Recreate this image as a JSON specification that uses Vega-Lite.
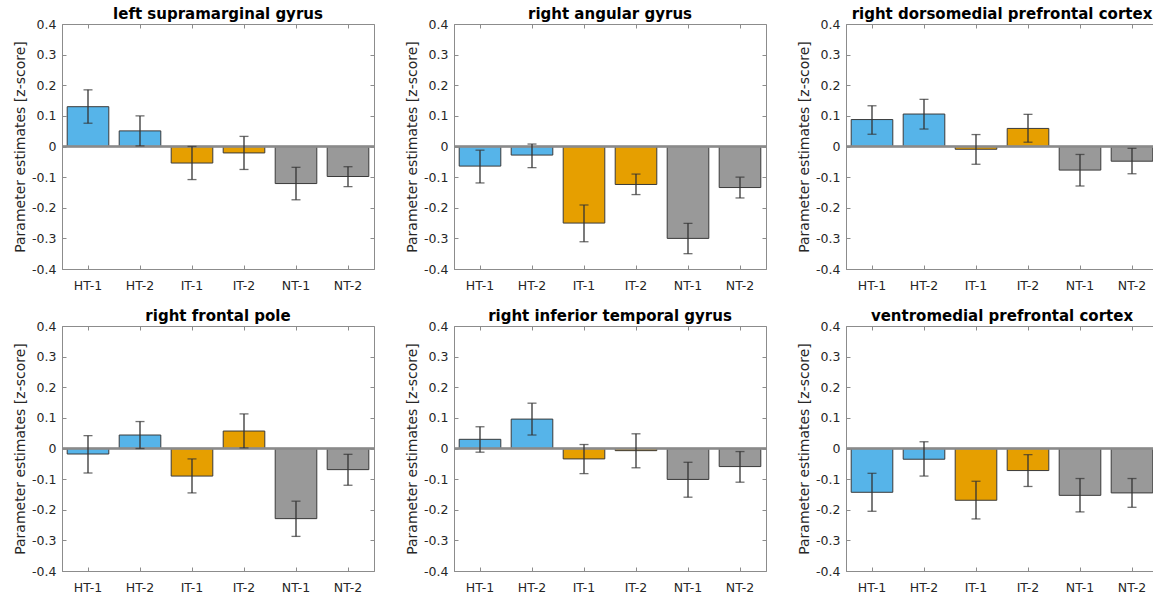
{
  "$schema": "https://vega.github.io/schema/vega-lite/v6.json",
  "padding": {"left": 13, "top": 6, "right": 0, "bottom": 0},
  "background": "white",
  "data": {"values": [
    {"region": "left supramarginal gyrus", "cond": "HT-1", "group": "HT", "mean": 0.130, "lo": 0.076, "hi": 0.185},
    {"region": "left supramarginal gyrus", "cond": "HT-2", "group": "HT", "mean": 0.051, "lo": 0.002, "hi": 0.100},
    {"region": "left supramarginal gyrus", "cond": "IT-1", "group": "IT", "mean": -0.054, "lo": -0.108, "hi": 0.000},
    {"region": "left supramarginal gyrus", "cond": "IT-2", "group": "IT", "mean": -0.021, "lo": -0.075, "hi": 0.033},
    {"region": "left supramarginal gyrus", "cond": "NT-1", "group": "NT", "mean": -0.121, "lo": -0.174, "hi": -0.068},
    {"region": "left supramarginal gyrus", "cond": "NT-2", "group": "NT", "mean": -0.098, "lo": -0.131, "hi": -0.066},
    {"region": "right angular gyrus", "cond": "HT-1", "group": "HT", "mean": -0.064, "lo": -0.119, "hi": -0.012},
    {"region": "right angular gyrus", "cond": "HT-2", "group": "HT", "mean": -0.028, "lo": -0.069, "hi": 0.008},
    {"region": "right angular gyrus", "cond": "IT-1", "group": "IT", "mean": -0.250, "lo": -0.311, "hi": -0.191},
    {"region": "right angular gyrus", "cond": "IT-2", "group": "IT", "mean": -0.124, "lo": -0.157, "hi": -0.090},
    {"region": "right angular gyrus", "cond": "NT-1", "group": "NT", "mean": -0.300, "lo": -0.350, "hi": -0.251},
    {"region": "right angular gyrus", "cond": "NT-2", "group": "NT", "mean": -0.134, "lo": -0.168, "hi": -0.100},
    {"region": "right dorsomedial prefrontal cortex", "cond": "HT-1", "group": "HT", "mean": 0.088, "lo": 0.040, "hi": 0.133},
    {"region": "right dorsomedial prefrontal cortex", "cond": "HT-2", "group": "HT", "mean": 0.106, "lo": 0.057, "hi": 0.154},
    {"region": "right dorsomedial prefrontal cortex", "cond": "IT-1", "group": "IT", "mean": -0.009, "lo": -0.058, "hi": 0.039},
    {"region": "right dorsomedial prefrontal cortex", "cond": "IT-2", "group": "IT", "mean": 0.059, "lo": 0.014, "hi": 0.105},
    {"region": "right dorsomedial prefrontal cortex", "cond": "NT-1", "group": "NT", "mean": -0.077, "lo": -0.129, "hi": -0.026},
    {"region": "right dorsomedial prefrontal cortex", "cond": "NT-2", "group": "NT", "mean": -0.048, "lo": -0.089, "hi": -0.006},
    {"region": "right frontal pole", "cond": "HT-1", "group": "HT", "mean": -0.018, "lo": -0.080, "hi": 0.042},
    {"region": "right frontal pole", "cond": "HT-2", "group": "HT", "mean": 0.044, "lo": 0.000, "hi": 0.088},
    {"region": "right frontal pole", "cond": "IT-1", "group": "IT", "mean": -0.090, "lo": -0.145, "hi": -0.034},
    {"region": "right frontal pole", "cond": "IT-2", "group": "IT", "mean": 0.057, "lo": 0.002, "hi": 0.113},
    {"region": "right frontal pole", "cond": "NT-1", "group": "NT", "mean": -0.229, "lo": -0.287, "hi": -0.172},
    {"region": "right frontal pole", "cond": "NT-2", "group": "NT", "mean": -0.069, "lo": -0.120, "hi": -0.019},
    {"region": "right inferior temporal gyrus", "cond": "HT-1", "group": "HT", "mean": 0.030, "lo": -0.012, "hi": 0.071},
    {"region": "right inferior temporal gyrus", "cond": "HT-2", "group": "HT", "mean": 0.096, "lo": 0.044, "hi": 0.148},
    {"region": "right inferior temporal gyrus", "cond": "IT-1", "group": "IT", "mean": -0.034, "lo": -0.082, "hi": 0.013},
    {"region": "right inferior temporal gyrus", "cond": "IT-2", "group": "IT", "mean": -0.007, "lo": -0.063, "hi": 0.048},
    {"region": "right inferior temporal gyrus", "cond": "NT-1", "group": "NT", "mean": -0.101, "lo": -0.159, "hi": -0.045},
    {"region": "right inferior temporal gyrus", "cond": "NT-2", "group": "NT", "mean": -0.059, "lo": -0.110, "hi": -0.010},
    {"region": "ventromedial prefrontal cortex", "cond": "HT-1", "group": "HT", "mean": -0.143, "lo": -0.205, "hi": -0.081},
    {"region": "ventromedial prefrontal cortex", "cond": "HT-2", "group": "HT", "mean": -0.035, "lo": -0.090, "hi": 0.022},
    {"region": "ventromedial prefrontal cortex", "cond": "IT-1", "group": "IT", "mean": -0.169, "lo": -0.230, "hi": -0.107},
    {"region": "ventromedial prefrontal cortex", "cond": "IT-2", "group": "IT", "mean": -0.072, "lo": -0.124, "hi": -0.020},
    {"region": "ventromedial prefrontal cortex", "cond": "NT-1", "group": "NT", "mean": -0.153, "lo": -0.207, "hi": -0.098},
    {"region": "ventromedial prefrontal cortex", "cond": "NT-2", "group": "NT", "mean": -0.145, "lo": -0.192, "hi": -0.098}
  ]},
  "columns": 3,
  "spacing": {"row": 57, "column": 80},
  "bounds": "flush",
  "concat": [
      {"title": "left supramarginal gyrus", "width": 312, "height": 245,
       "transform": [{"filter": "datum.region == 'left supramarginal gyrus'"}],
       "resolve": {"axis": {"x": "independent", "y": "independent"}},
       "layer": [
        {"mark": {"type": "bar", "stroke": "#3a3a3a", "strokeWidth": 1},
         "encoding": {"x": {"field": "cond", "type": "nominal", "sort": ["HT-1","HT-2","IT-1","IT-2","NT-1","NT-2"], "scale": {"paddingInner": 0.2, "paddingOuter": 0.1}, "axis": {"title": null, "labelAngle": 0, "labelPadding": 14}},
          "y": {"field": "mean", "type": "quantitative", "scale": {"domain": [-0.4, 0.4], "nice": false, "zero": false}, "axis": {"title": "Parameter estimates [z-score]", "values": [-0.4,-0.3,-0.2,-0.1,0,0.1,0.2,0.3,0.4], "labelExpr": "datum.value == 0 ? '0' : (datum.value < 0 ? '-' + format(-datum.value, '.1f') : format(datum.value, '.1f'))", "titlePadding": 4, "labelPadding": 10}},
          "color": {"field": "group", "type": "nominal", "scale": {"domain": ["HT","IT","NT"], "range": ["#56B4E9","#E69F00","#999999"]}, "legend": null}}},
        {"mark": {"type": "rule", "color": "#8a8a8a", "strokeWidth": 1.3}, "encoding": {"y": {"datum": 0, "type": "quantitative", "axis": null}}},
        {"mark": {"type": "rule", "color": "#333333", "strokeWidth": 1.3}, "encoding": {"x": {"field": "cond", "type": "nominal", "sort": ["HT-1","HT-2","IT-1","IT-2","NT-1","NT-2"], "axis": null}, "y": {"field": "lo", "type": "quantitative", "axis": null}, "y2": {"field": "hi"}}},
        {"mark": {"type": "tick", "color": "#333333", "size": 9, "thickness": 1.3}, "encoding": {"x": {"field": "cond", "type": "nominal", "sort": ["HT-1","HT-2","IT-1","IT-2","NT-1","NT-2"], "axis": null}, "y": {"field": "lo", "type": "quantitative", "axis": null}}},
        {"mark": {"type": "tick", "color": "#333333", "size": 9, "thickness": 1.3}, "encoding": {"x": {"field": "cond", "type": "nominal", "sort": ["HT-1","HT-2","IT-1","IT-2","NT-1","NT-2"], "axis": null}, "y": {"field": "hi", "type": "quantitative", "axis": null}}},
        {"mark": {"type": "tick", "opacity": 0}, "encoding": {"x": {"field": "cond", "type": "nominal", "sort": ["HT-1","HT-2","IT-1","IT-2","NT-1","NT-2"], "axis": {"orient": "top", "labels": false, "title": null, "domain": false}}, "y": {"field": "mean", "type": "quantitative", "axis": {"orient": "right", "labels": false, "title": null, "domain": false, "values": [-0.4,-0.3,-0.2,-0.1,0,0.1,0.2,0.3,0.4]}}}}
       ]},
      {"title": "right angular gyrus", "width": 312, "height": 245,
       "transform": [{"filter": "datum.region == 'right angular gyrus'"}],
       "resolve": {"axis": {"x": "independent", "y": "independent"}},
       "layer": [
        {"mark": {"type": "bar", "stroke": "#3a3a3a", "strokeWidth": 1},
         "encoding": {"x": {"field": "cond", "type": "nominal", "sort": ["HT-1","HT-2","IT-1","IT-2","NT-1","NT-2"], "scale": {"paddingInner": 0.2, "paddingOuter": 0.1}, "axis": {"title": null, "labelAngle": 0, "labelPadding": 14}},
          "y": {"field": "mean", "type": "quantitative", "scale": {"domain": [-0.4, 0.4], "nice": false, "zero": false}, "axis": {"title": "Parameter estimates [z-score]", "values": [-0.4,-0.3,-0.2,-0.1,0,0.1,0.2,0.3,0.4], "labelExpr": "datum.value == 0 ? '0' : (datum.value < 0 ? '-' + format(-datum.value, '.1f') : format(datum.value, '.1f'))", "titlePadding": 4, "labelPadding": 10}},
          "color": {"field": "group", "type": "nominal", "scale": {"domain": ["HT","IT","NT"], "range": ["#56B4E9","#E69F00","#999999"]}, "legend": null}}},
        {"mark": {"type": "rule", "color": "#8a8a8a", "strokeWidth": 1.3}, "encoding": {"y": {"datum": 0, "type": "quantitative", "axis": null}}},
        {"mark": {"type": "rule", "color": "#333333", "strokeWidth": 1.3}, "encoding": {"x": {"field": "cond", "type": "nominal", "sort": ["HT-1","HT-2","IT-1","IT-2","NT-1","NT-2"], "axis": null}, "y": {"field": "lo", "type": "quantitative", "axis": null}, "y2": {"field": "hi"}}},
        {"mark": {"type": "tick", "color": "#333333", "size": 9, "thickness": 1.3}, "encoding": {"x": {"field": "cond", "type": "nominal", "sort": ["HT-1","HT-2","IT-1","IT-2","NT-1","NT-2"], "axis": null}, "y": {"field": "lo", "type": "quantitative", "axis": null}}},
        {"mark": {"type": "tick", "color": "#333333", "size": 9, "thickness": 1.3}, "encoding": {"x": {"field": "cond", "type": "nominal", "sort": ["HT-1","HT-2","IT-1","IT-2","NT-1","NT-2"], "axis": null}, "y": {"field": "hi", "type": "quantitative", "axis": null}}},
        {"mark": {"type": "tick", "opacity": 0}, "encoding": {"x": {"field": "cond", "type": "nominal", "sort": ["HT-1","HT-2","IT-1","IT-2","NT-1","NT-2"], "axis": {"orient": "top", "labels": false, "title": null, "domain": false}}, "y": {"field": "mean", "type": "quantitative", "axis": {"orient": "right", "labels": false, "title": null, "domain": false, "values": [-0.4,-0.3,-0.2,-0.1,0,0.1,0.2,0.3,0.4]}}}}
       ]},
      {"title": "right dorsomedial prefrontal cortex", "width": 312, "height": 245,
       "transform": [{"filter": "datum.region == 'right dorsomedial prefrontal cortex'"}],
       "resolve": {"axis": {"x": "independent", "y": "independent"}},
       "layer": [
        {"mark": {"type": "bar", "stroke": "#3a3a3a", "strokeWidth": 1},
         "encoding": {"x": {"field": "cond", "type": "nominal", "sort": ["HT-1","HT-2","IT-1","IT-2","NT-1","NT-2"], "scale": {"paddingInner": 0.2, "paddingOuter": 0.1}, "axis": {"title": null, "labelAngle": 0, "labelPadding": 14}},
          "y": {"field": "mean", "type": "quantitative", "scale": {"domain": [-0.4, 0.4], "nice": false, "zero": false}, "axis": {"title": "Parameter estimates [z-score]", "values": [-0.4,-0.3,-0.2,-0.1,0,0.1,0.2,0.3,0.4], "labelExpr": "datum.value == 0 ? '0' : (datum.value < 0 ? '-' + format(-datum.value, '.1f') : format(datum.value, '.1f'))", "titlePadding": 4, "labelPadding": 10}},
          "color": {"field": "group", "type": "nominal", "scale": {"domain": ["HT","IT","NT"], "range": ["#56B4E9","#E69F00","#999999"]}, "legend": null}}},
        {"mark": {"type": "rule", "color": "#8a8a8a", "strokeWidth": 1.3}, "encoding": {"y": {"datum": 0, "type": "quantitative", "axis": null}}},
        {"mark": {"type": "rule", "color": "#333333", "strokeWidth": 1.3}, "encoding": {"x": {"field": "cond", "type": "nominal", "sort": ["HT-1","HT-2","IT-1","IT-2","NT-1","NT-2"], "axis": null}, "y": {"field": "lo", "type": "quantitative", "axis": null}, "y2": {"field": "hi"}}},
        {"mark": {"type": "tick", "color": "#333333", "size": 9, "thickness": 1.3}, "encoding": {"x": {"field": "cond", "type": "nominal", "sort": ["HT-1","HT-2","IT-1","IT-2","NT-1","NT-2"], "axis": null}, "y": {"field": "lo", "type": "quantitative", "axis": null}}},
        {"mark": {"type": "tick", "color": "#333333", "size": 9, "thickness": 1.3}, "encoding": {"x": {"field": "cond", "type": "nominal", "sort": ["HT-1","HT-2","IT-1","IT-2","NT-1","NT-2"], "axis": null}, "y": {"field": "hi", "type": "quantitative", "axis": null}}},
        {"mark": {"type": "tick", "opacity": 0}, "encoding": {"x": {"field": "cond", "type": "nominal", "sort": ["HT-1","HT-2","IT-1","IT-2","NT-1","NT-2"], "axis": {"orient": "top", "labels": false, "title": null, "domain": false}}, "y": {"field": "mean", "type": "quantitative", "axis": {"orient": "right", "labels": false, "title": null, "domain": false, "values": [-0.4,-0.3,-0.2,-0.1,0,0.1,0.2,0.3,0.4]}}}}
       ]},
      {"title": "right frontal pole", "width": 312, "height": 245,
       "transform": [{"filter": "datum.region == 'right frontal pole'"}],
       "resolve": {"axis": {"x": "independent", "y": "independent"}},
       "layer": [
        {"mark": {"type": "bar", "stroke": "#3a3a3a", "strokeWidth": 1},
         "encoding": {"x": {"field": "cond", "type": "nominal", "sort": ["HT-1","HT-2","IT-1","IT-2","NT-1","NT-2"], "scale": {"paddingInner": 0.2, "paddingOuter": 0.1}, "axis": {"title": null, "labelAngle": 0, "labelPadding": 14}},
          "y": {"field": "mean", "type": "quantitative", "scale": {"domain": [-0.4, 0.4], "nice": false, "zero": false}, "axis": {"title": "Parameter estimates [z-score]", "values": [-0.4,-0.3,-0.2,-0.1,0,0.1,0.2,0.3,0.4], "labelExpr": "datum.value == 0 ? '0' : (datum.value < 0 ? '-' + format(-datum.value, '.1f') : format(datum.value, '.1f'))", "titlePadding": 4, "labelPadding": 10}},
          "color": {"field": "group", "type": "nominal", "scale": {"domain": ["HT","IT","NT"], "range": ["#56B4E9","#E69F00","#999999"]}, "legend": null}}},
        {"mark": {"type": "rule", "color": "#8a8a8a", "strokeWidth": 1.3}, "encoding": {"y": {"datum": 0, "type": "quantitative", "axis": null}}},
        {"mark": {"type": "rule", "color": "#333333", "strokeWidth": 1.3}, "encoding": {"x": {"field": "cond", "type": "nominal", "sort": ["HT-1","HT-2","IT-1","IT-2","NT-1","NT-2"], "axis": null}, "y": {"field": "lo", "type": "quantitative", "axis": null}, "y2": {"field": "hi"}}},
        {"mark": {"type": "tick", "color": "#333333", "size": 9, "thickness": 1.3}, "encoding": {"x": {"field": "cond", "type": "nominal", "sort": ["HT-1","HT-2","IT-1","IT-2","NT-1","NT-2"], "axis": null}, "y": {"field": "lo", "type": "quantitative", "axis": null}}},
        {"mark": {"type": "tick", "color": "#333333", "size": 9, "thickness": 1.3}, "encoding": {"x": {"field": "cond", "type": "nominal", "sort": ["HT-1","HT-2","IT-1","IT-2","NT-1","NT-2"], "axis": null}, "y": {"field": "hi", "type": "quantitative", "axis": null}}},
        {"mark": {"type": "tick", "opacity": 0}, "encoding": {"x": {"field": "cond", "type": "nominal", "sort": ["HT-1","HT-2","IT-1","IT-2","NT-1","NT-2"], "axis": {"orient": "top", "labels": false, "title": null, "domain": false}}, "y": {"field": "mean", "type": "quantitative", "axis": {"orient": "right", "labels": false, "title": null, "domain": false, "values": [-0.4,-0.3,-0.2,-0.1,0,0.1,0.2,0.3,0.4]}}}}
       ]},
      {"title": "right inferior temporal gyrus", "width": 312, "height": 245,
       "transform": [{"filter": "datum.region == 'right inferior temporal gyrus'"}],
       "resolve": {"axis": {"x": "independent", "y": "independent"}},
       "layer": [
        {"mark": {"type": "bar", "stroke": "#3a3a3a", "strokeWidth": 1},
         "encoding": {"x": {"field": "cond", "type": "nominal", "sort": ["HT-1","HT-2","IT-1","IT-2","NT-1","NT-2"], "scale": {"paddingInner": 0.2, "paddingOuter": 0.1}, "axis": {"title": null, "labelAngle": 0, "labelPadding": 14}},
          "y": {"field": "mean", "type": "quantitative", "scale": {"domain": [-0.4, 0.4], "nice": false, "zero": false}, "axis": {"title": "Parameter estimates [z-score]", "values": [-0.4,-0.3,-0.2,-0.1,0,0.1,0.2,0.3,0.4], "labelExpr": "datum.value == 0 ? '0' : (datum.value < 0 ? '-' + format(-datum.value, '.1f') : format(datum.value, '.1f'))", "titlePadding": 4, "labelPadding": 10}},
          "color": {"field": "group", "type": "nominal", "scale": {"domain": ["HT","IT","NT"], "range": ["#56B4E9","#E69F00","#999999"]}, "legend": null}}},
        {"mark": {"type": "rule", "color": "#8a8a8a", "strokeWidth": 1.3}, "encoding": {"y": {"datum": 0, "type": "quantitative", "axis": null}}},
        {"mark": {"type": "rule", "color": "#333333", "strokeWidth": 1.3}, "encoding": {"x": {"field": "cond", "type": "nominal", "sort": ["HT-1","HT-2","IT-1","IT-2","NT-1","NT-2"], "axis": null}, "y": {"field": "lo", "type": "quantitative", "axis": null}, "y2": {"field": "hi"}}},
        {"mark": {"type": "tick", "color": "#333333", "size": 9, "thickness": 1.3}, "encoding": {"x": {"field": "cond", "type": "nominal", "sort": ["HT-1","HT-2","IT-1","IT-2","NT-1","NT-2"], "axis": null}, "y": {"field": "lo", "type": "quantitative", "axis": null}}},
        {"mark": {"type": "tick", "color": "#333333", "size": 9, "thickness": 1.3}, "encoding": {"x": {"field": "cond", "type": "nominal", "sort": ["HT-1","HT-2","IT-1","IT-2","NT-1","NT-2"], "axis": null}, "y": {"field": "hi", "type": "quantitative", "axis": null}}},
        {"mark": {"type": "tick", "opacity": 0}, "encoding": {"x": {"field": "cond", "type": "nominal", "sort": ["HT-1","HT-2","IT-1","IT-2","NT-1","NT-2"], "axis": {"orient": "top", "labels": false, "title": null, "domain": false}}, "y": {"field": "mean", "type": "quantitative", "axis": {"orient": "right", "labels": false, "title": null, "domain": false, "values": [-0.4,-0.3,-0.2,-0.1,0,0.1,0.2,0.3,0.4]}}}}
       ]},
      {"title": "ventromedial prefrontal cortex", "width": 312, "height": 245,
       "transform": [{"filter": "datum.region == 'ventromedial prefrontal cortex'"}],
       "resolve": {"axis": {"x": "independent", "y": "independent"}},
       "layer": [
        {"mark": {"type": "bar", "stroke": "#3a3a3a", "strokeWidth": 1},
         "encoding": {"x": {"field": "cond", "type": "nominal", "sort": ["HT-1","HT-2","IT-1","IT-2","NT-1","NT-2"], "scale": {"paddingInner": 0.2, "paddingOuter": 0.1}, "axis": {"title": null, "labelAngle": 0, "labelPadding": 14}},
          "y": {"field": "mean", "type": "quantitative", "scale": {"domain": [-0.4, 0.4], "nice": false, "zero": false}, "axis": {"title": "Parameter estimates [z-score]", "values": [-0.4,-0.3,-0.2,-0.1,0,0.1,0.2,0.3,0.4], "labelExpr": "datum.value == 0 ? '0' : (datum.value < 0 ? '-' + format(-datum.value, '.1f') : format(datum.value, '.1f'))", "titlePadding": 4, "labelPadding": 10}},
          "color": {"field": "group", "type": "nominal", "scale": {"domain": ["HT","IT","NT"], "range": ["#56B4E9","#E69F00","#999999"]}, "legend": null}}},
        {"mark": {"type": "rule", "color": "#8a8a8a", "strokeWidth": 1.3}, "encoding": {"y": {"datum": 0, "type": "quantitative", "axis": null}}},
        {"mark": {"type": "rule", "color": "#333333", "strokeWidth": 1.3}, "encoding": {"x": {"field": "cond", "type": "nominal", "sort": ["HT-1","HT-2","IT-1","IT-2","NT-1","NT-2"], "axis": null}, "y": {"field": "lo", "type": "quantitative", "axis": null}, "y2": {"field": "hi"}}},
        {"mark": {"type": "tick", "color": "#333333", "size": 9, "thickness": 1.3}, "encoding": {"x": {"field": "cond", "type": "nominal", "sort": ["HT-1","HT-2","IT-1","IT-2","NT-1","NT-2"], "axis": null}, "y": {"field": "lo", "type": "quantitative", "axis": null}}},
        {"mark": {"type": "tick", "color": "#333333", "size": 9, "thickness": 1.3}, "encoding": {"x": {"field": "cond", "type": "nominal", "sort": ["HT-1","HT-2","IT-1","IT-2","NT-1","NT-2"], "axis": null}, "y": {"field": "hi", "type": "quantitative", "axis": null}}},
        {"mark": {"type": "tick", "opacity": 0}, "encoding": {"x": {"field": "cond", "type": "nominal", "sort": ["HT-1","HT-2","IT-1","IT-2","NT-1","NT-2"], "axis": {"orient": "top", "labels": false, "title": null, "domain": false}}, "y": {"field": "mean", "type": "quantitative", "axis": {"orient": "right", "labels": false, "title": null, "domain": false, "values": [-0.4,-0.3,-0.2,-0.1,0,0.1,0.2,0.3,0.4]}}}}
       ]}
  ],
  "config": {
    "font": "DejaVu Sans",
    "view": {"stroke": "#8c8c8c", "strokeWidth": 1},
    "axis": {"labelFont": "DejaVu Sans", "labelFontSize": 12.5, "labelColor": "#262626", "tickColor": "#8c8c8c", "domainColor": "#8c8c8c", "grid": false, "tickSize": -4, "titleFont": "DejaVu Sans", "titleFontSize": 14, "titleFontWeight": "normal", "titleColor": "#262626"},
    "title": {"font": "DejaVu Sans", "fontSize": 15, "fontWeight": "bold", "color": "#000000", "offset": -4, "frame": "group", "anchor": "middle"}
  }
}
